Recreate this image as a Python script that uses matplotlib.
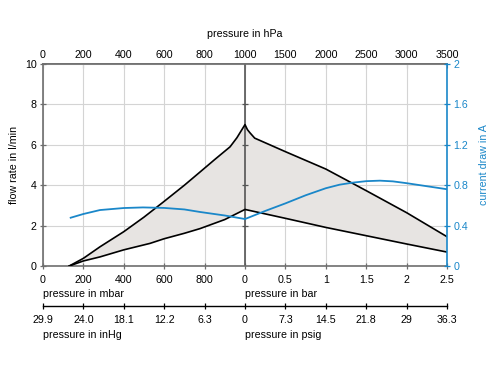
import matplotlib

matplotlib.use("Agg")
import matplotlib.pyplot as plt
import numpy as np

plt.rcParams["font.family"] = ["Liberation Sans", "DejaVu Sans"]
plt.rcParams["font.size"] = 7.7

# left half: vacuum side in mbar, right half: pressure side in bar
upper_mbar = [130, 200, 282, 400, 500, 596, 700, 777, 850, 926, 960, 1000]
upper_flow_vac = [0, 0.38, 0.95, 1.7, 2.42, 3.17, 4.0, 4.65, 5.27, 5.9, 6.35, 7.0]
upper_bar = [0, 0.03, 0.06, 0.12, 0.5, 1.0, 1.5, 2.0, 2.5]
upper_flow_pres = [7.0, 6.75, 6.6, 6.33, 5.66, 4.8, 3.73, 2.64, 1.45]

lower_mbar = [130, 200, 282, 400, 530, 600, 700, 777, 900, 1000]
lower_flow_vac = [0, 0.25, 0.45, 0.8, 1.12, 1.35, 1.62, 1.85, 2.3, 2.8]
lower_bar = [0, 0.5, 1.0, 1.5, 2.0, 2.5]
lower_flow_pres = [2.81, 2.36, 1.91, 1.5, 1.09, 0.69]

current_mbar = [137, 200, 282, 400, 495, 600, 700, 777, 900, 1000]
current_vac = [0.478, 0.515, 0.554, 0.574, 0.58, 0.575, 0.56, 0.535, 0.5, 0.465]
current_bar = [0, 0.25, 0.5, 0.75, 1.0, 1.17, 1.33, 1.5, 1.67, 1.83, 2.0, 2.25, 2.5]
current_pres = [0.465, 0.545, 0.62, 0.70, 0.77, 0.805, 0.825, 0.84, 0.845,
                0.838, 0.82, 0.79, 0.76]

# tick labels of the five pressure scales
mbar_labels = ["0", "200", "400", "600", "800"]
bar_labels = ["0", "0.5", "1", "1.5", "2", "2.5"]
hpa_labels = ["0", "200", "400", "600", "800", "1000", "1500", "2000", "2500", "3000", "3500"]
inhg_labels = ["29.9", "24.0", "18.1", "12.2", "6.3"]
psig_labels = ["0", "7.3", "14.5", "21.8", "29", "36.3"]
flow_ticks = [0, 2, 4, 6, 8, 10]
current_ticks = [0, 0.4, 0.8, 1.2, 1.6, 2]

BLUE = "#1a87c9"
GREY = "#6e6e6e"
DARK = "#555555"


def to_u(mbar=None, bar=None):
    # shared x coordinate: 0..5 vacuum (200 mbar per unit), 5..10 pressure (0.5 bar per unit)
    if mbar is not None:
        return np.asarray(mbar, dtype=float) / 200.0
    return 5.0 + np.asarray(bar, dtype=float) * 2.0


def style_ticks(axis, color):
    axis.set_tick_params(direction="inout", length=5, width=0.9, color=color)


def main() -> None:
    fig = plt.figure(figsize=(4.91, 3.68), dpi=100)
    ax = fig.add_axes([43 / 491, 1 - 266 / 368, 404 / 491, 202 / 368])

    xu = np.concatenate([to_u(mbar=upper_mbar), to_u(bar=upper_bar[1:])])
    yu = np.concatenate([upper_flow_vac, upper_flow_pres[1:]])
    xl = np.concatenate([to_u(mbar=lower_mbar), to_u(bar=lower_bar[1:])])
    yl = np.concatenate([lower_flow_vac, lower_flow_pres[1:]])

    ax.fill(np.concatenate([xu, xl[::-1]]), np.concatenate([yu, yl[::-1]]),
            color="#e7e4e2", lw=0, zorder=1)

    # middle spine between vacuum and pressure side, with its own ticks
    ax.axvline(to_u(bar=0), color=DARK, lw=1.2, zorder=2)
    ax.plot(np.full(len(flow_ticks) - 2, to_u(bar=0)), flow_ticks[1:-1],
            ls="none", marker="_", ms=5, mew=0.9, color=DARK, zorder=2)

    ax.plot(xu, yu, color="black", lw=1.2, zorder=3)
    ax.plot(xl, yl, color="black", lw=1.2, zorder=3)

    ax.set_xlim(0, 10)
    ax.set_ylim(0, 10)
    ax.set_xticks(range(11))
    ax.set_xticklabels(mbar_labels + bar_labels)
    ax.set_yticks(flow_ticks)
    ax.grid(True, color="#d4d4d4", lw=0.8, zorder=0)
    ax.set_axisbelow(True)
    style_ticks(ax.xaxis, GREY)
    style_ticks(ax.yaxis, GREY)
    ax.tick_params(axis="x", pad=4)
    ax.tick_params(axis="y", pad=2)
    for side in ["left", "bottom", "top"]:
        ax.spines[side].set_color(GREY)
        ax.spines[side].set_linewidth(1.2)
    ax.spines["right"].set_visible(False)
    ax.set_ylabel("flow rate in l/min", labelpad=4)

    # top axis in hPa
    top = ax.secondary_xaxis("top")
    top.set_xticks(range(11))
    top.set_xticklabels(hpa_labels)
    top.tick_params(direction="in", length=3, color=GREY, pad=3)
    top.spines["top"].set_color(GREY)
    top.spines["top"].set_linewidth(1.2)
    top.set_xlabel("pressure in hPa", labelpad=9)

    # second bottom axis: inHg / psig
    low = ax.secondary_xaxis(-0.2)
    low.set_xticks(range(11))
    low.set_xticklabels(inhg_labels + psig_labels)
    low.spines["bottom"].set_color("black")
    low.spines["bottom"].set_linewidth(1.0)
    style_ticks(low.xaxis, "black")
    low.tick_params(pad=4)

    ax.text(0, -0.115, "pressure in mbar", transform=ax.transAxes, ha="left", va="top")
    ax.text(0.5, -0.115, "pressure in bar", transform=ax.transAxes, ha="left", va="top")
    ax.text(0, -0.315, "pressure in inHg", transform=ax.transAxes, ha="left", va="top")
    ax.text(0.5, -0.315, "pressure in psig", transform=ax.transAxes, ha="left", va="top")

    # current draw on the right axis
    ax2 = ax.twinx()
    ax2.plot(to_u(mbar=current_mbar), current_vac, color=BLUE, lw=1.3)
    ax2.plot(to_u(bar=current_bar), current_pres, color=BLUE, lw=1.3)
    ax2.set_ylim(0, 2)
    ax2.set_yticks(current_ticks)
    ax2.set_yticklabels(["0", "0.4", "0.8", "1.2", "1.6", "2"])
    style_ticks(ax2.yaxis, BLUE)
    ax2.tick_params(axis="y", labelcolor=BLUE, pad=2)
    for side in ["left", "bottom", "top"]:
        ax2.spines[side].set_visible(False)
    ax2.spines["right"].set_color(BLUE)
    ax2.spines["right"].set_linewidth(1.2)
    ax2.set_ylabel("current draw in A", color=BLUE, labelpad=8)

    fig.savefig("out.png", dpi=100)
    plt.close(fig)


if __name__ == "__main__":
    main()
